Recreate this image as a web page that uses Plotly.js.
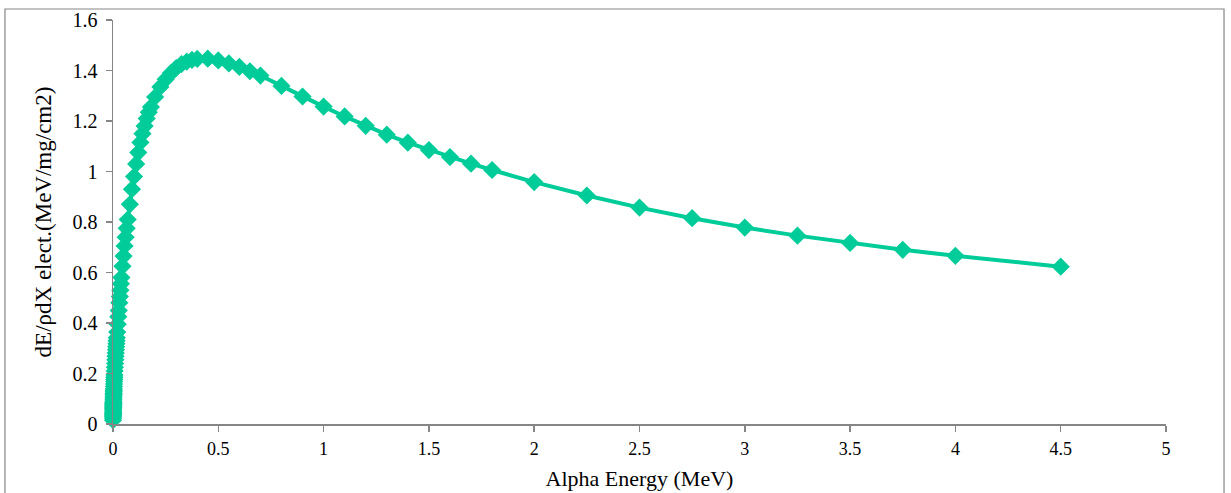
<!DOCTYPE html>
<html>
<head>
<meta charset="utf-8">
<script src="https://cdn.plot.ly/plotly-3.0.1.min.js"></script>
<style>
html,body{margin:0;padding:0;background:#fff;}
#chart{width:1231px;height:493px;}
</style>
</head>
<body>
<div id="chart"></div>
<script>
// Alpha energy (MeV)
var energyLow = [0.0001, 0.0002, 0.0003, 0.0004, 0.0005, 0.0006, 0.0007, 0.0008, 0.0009];
var energyD3 = [0.001, 0.0011, 0.0012, 0.0013, 0.0014, 0.0015, 0.0016, 0.0017, 0.0018, 0.002, 0.00225, 0.0025, 0.00275, 0.003, 0.00325, 0.0035, 0.00375, 0.004, 0.0045, 0.005, 0.0055, 0.006, 0.0065, 0.007, 0.008, 0.009];
var energyD2 = [0.01, 0.011, 0.012, 0.013, 0.014, 0.015, 0.016, 0.017, 0.018, 0.02, 0.0225, 0.025, 0.0275, 0.03, 0.0325, 0.035, 0.0375, 0.04, 0.045, 0.05, 0.055, 0.06, 0.065, 0.07, 0.08, 0.09];
var energyD1 = [0.1, 0.11, 0.12, 0.13, 0.14, 0.15, 0.16, 0.17, 0.18, 0.2, 0.225, 0.25, 0.275, 0.3, 0.325, 0.35, 0.375, 0.4, 0.45, 0.5, 0.55, 0.6, 0.65, 0.7, 0.8, 0.9];
var energyD0 = [1, 1.1, 1.2, 1.3, 1.4, 1.5, 1.6, 1.7, 1.8, 2, 2.25, 2.5, 2.75, 3, 3.25, 3.5, 3.75, 4, 4.5];

// dE/rho dX electronic (MeV/mg/cm2)
var stopLow = [0.015, 0.023, 0.029, 0.034, 0.039, 0.043, 0.047, 0.051, 0.056];
var stopD3 = [0.060, 0.064, 0.067, 0.071, 0.074, 0.077, 0.080, 0.083, 0.086, 0.091, 0.098, 0.104, 0.111, 0.117, 0.122, 0.128, 0.133, 0.139, 0.149, 0.158, 0.168, 0.177, 0.185, 0.194, 0.210, 0.225];
var stopD2 = [0.240, 0.254, 0.268, 0.281, 0.294, 0.306, 0.318, 0.330, 0.342, 0.364, 0.395, 0.425, 0.450, 0.480, 0.505, 0.530, 0.555, 0.580, 0.625, 0.665, 0.705, 0.740, 0.775, 0.810, 0.870, 0.930];
var stopD1 = [0.980, 1.030, 1.075, 1.115, 1.150, 1.180, 1.210, 1.235, 1.255, 1.295, 1.335, 1.365, 1.390, 1.410, 1.425, 1.435, 1.442, 1.446, 1.447, 1.440, 1.428, 1.414, 1.397, 1.380, 1.339, 1.297];
var stopD0 = [1.257, 1.218, 1.181, 1.146, 1.114, 1.085, 1.057, 1.031, 1.006, 0.958, 0.905, 0.857, 0.815, 0.778, 0.746, 0.717, 0.690, 0.666, 0.623];

var xTicks = [0, 0.5, 1, 1.5, 2, 2.5, 3, 3.5, 4, 4.5, 5];
var xTickText = ['0', '0.5', '1', '1.5', '2', '2.5', '3', '3.5', '4', '4.5', '5'];
var yTicks = [0, 0.2, 0.4, 0.6, 0.8, 1, 1.2, 1.4, 1.6];
var yTickText = ['0', '0.2', '0.4', '0.6', '0.8', '1', '1.2', '1.4', '1.6'];

var energy = energyLow.concat(energyD3, energyD2, energyD1, energyD0);
var stopping = stopLow.concat(stopD3, stopD2, stopD1, stopD0);

var color = '#00CC99';
var axisColor = '#868686';
var font = 'Liberation Serif';

var trace = {
  x: energy,
  y: stopping,
  type: 'scatter',
  mode: 'lines+markers',
  line: {color: color, width: 4},
  marker: {symbol: 'diamond', size: 14, color: color},
  cliponaxis: false,
  showlegend: false,
  hoverinfo: 'x+y'
};

var layout = {
  width: 1231,
  height: 493,
  margin: {l: 113, r: 65, t: 20, b: 69},
  paper_bgcolor: '#ffffff',
  plot_bgcolor: '#ffffff',
  font: {family: font, color: '#000000', size: 18},
  xaxis: {
    range: [0, 5],
    tickvals: xTicks,
    ticktext: xTickText,
    ticks: 'outside',
    ticklen: 6,
    tickwidth: 1.5,
    tickcolor: axisColor,
    showline: true,
    linecolor: axisColor,
    linewidth: 1.5,
    showgrid: false,
    zeroline: false,
    tickfont: {family: font, size: 18, color: '#000'},
    ticklabelstandoff: 2,
    title: {text: 'Alpha Energy (MeV)', font: {family: font, size: 22, color: '#000'}, standoff: 12}
  },
  yaxis: {
    range: [0, 1.6],
    tickvals: yTicks,
    ticktext: yTickText,
    ticks: 'outside',
    ticklen: 6,
    tickwidth: 1.5,
    tickcolor: axisColor,
    showline: true,
    linecolor: axisColor,
    linewidth: 1.5,
    showgrid: false,
    zeroline: false,
    tickfont: {family: font, size: 20, color: '#000'},
    ticklabelstandoff: 4,
    title: {text: 'dE/ρdX elect.(MeV/mg/cm2)', font: {family: font, size: 23, color: '#000'}, standoff: 14}
  },
  shapes: [{
    type: 'rect', xref: 'paper', yref: 'paper',
    x0: -0.1026, x1: 1.0551, y0: -0.2, y1: 1.0272,
    line: {color: axisColor, width: 1.2}, fillcolor: 'rgba(0,0,0,0)', layer: 'below'
  }]
};

Plotly.newPlot('chart', [trace], layout, {displayModeBar: false, staticPlot: true});
</script>
</body>
</html>
